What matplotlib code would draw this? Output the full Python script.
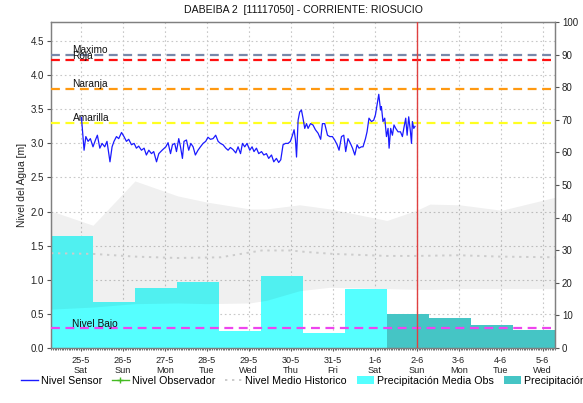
import numpy as np
import matplotlib
matplotlib.use('Agg')
import matplotlib.pyplot as plt
from matplotlib.lines import Line2D
from matplotlib.patches import Patch
from matplotlib.ticker import MultipleLocator, FixedLocator
import matplotlib.transforms as mtransforms

plt.rcParams['font.family'] = ['Liberation Sans', 'DejaVu Sans']

title = "DABEIBA 2  [11117050] - CORRIENTE: RIOSUCIO"
day_labels = ["25-5", "26-5", "27-5", "28-5", "29-5", "30-5", "31-5",
              "1-6", "2-6", "3-6", "4-6", "5-6"]
weekday_labels = ["Sat", "Sun", "Mon", "Tue", "Wed", "Thu", "Fri",
                  "Sat", "Sun", "Mon", "Tue", "Wed"]

# Nivel Sensor: hours since 25-5 00:00 and level [m]
sensor_hours = [0.4, 1.9, 2.9, 4.2, 5.5, 7.0, 8.4, 9.5, 10.9, 12.2, 13.7, 15.0,
                16.7, 17.9, 19.0, 20.4, 21.7, 23.3, 24.7, 26.1, 27.4, 29.0, 30.5,
                31.8, 33.1, 34.7, 36.2, 37.5, 38.9, 40.4, 41.7, 43.3, 44.6, 46.5,
                48.6, 49.9, 51.3, 52.4, 53.7, 54.7, 56.0, 57.0, 58.1, 59.0, 60.4,
                61.7, 62.9, 64.2, 65.5, 67.0, 68.4, 69.9, 71.4, 72.7, 74.1, 75.6,
                77.1, 78.5, 79.8, 81.3, 82.9, 84.2, 85.5, 87.0, 88.6, 89.9, 91.3,
                92.4, 93.7, 95.0, 96.6, 97.9, 99.0, 100.4, 101.7, 103.3, 104.6,
                106.1, 107.4, 109.0, 110.3, 111.8, 113.1, 114.3, 115.6, 117.0,
                118.5, 119.8, 121.0, 121.9, 122.7, 123.3, 124.2, 125.1, 126.1,
                127.0, 128.0, 129.0, 129.9, 131.3, 132.7, 134.1, 135.6, 137.1,
                138.1, 139.4, 141.0, 142.3, 143.8, 145.1, 146.5, 147.6, 149.0,
                150.3, 151.4, 152.7, 154.1, 155.3, 156.6, 157.9, 159.0, 160.4,
                161.3, 162.7, 163.6, 164.7, 166.1, 167.4, 168.4, 169.3, 170.3,
                171.3, 171.8, 172.7, 173.7, 174.7, 175.6, 176.2, 177.1, 178.1,
                179.0, 180.0, 181.3, 182.7, 183.8, 184.6, 185.7, 186.5, 187.4,
                188.4, 189.0, 189.5, 190.3, 191.0]
sensor_level = [3.38, 2.90, 3.10, 3.03, 3.07, 2.95, 3.05, 3.12, 2.93, 3.00, 2.95, 3.03,
                2.73, 2.95, 3.03, 3.10, 3.07, 3.16, 3.10, 3.03, 3.06, 2.98, 3.00,
                2.93, 2.96, 2.90, 2.93, 2.83, 2.90, 2.85, 2.88, 2.73, 2.85, 2.90,
                2.95, 3.01, 2.85, 2.98, 3.00, 2.88, 3.07, 2.95, 2.78, 3.03, 3.05,
                2.90, 3.00, 2.95, 2.83, 2.90, 2.95, 3.00, 3.03, 3.09, 3.06, 3.07,
                3.12, 3.03, 3.00, 2.98, 2.93, 2.90, 2.94, 2.91, 2.86, 2.95, 2.85,
                3.00, 2.95, 3.00, 2.90, 2.95, 2.88, 2.93, 2.85, 2.88, 2.83,
                2.85, 2.78, 2.83, 2.73, 2.78, 2.72, 2.76, 2.98, 3.00,
                3.00, 3.03, 3.12, 3.20, 3.05, 2.80, 3.34, 3.46, 3.49,
                3.37, 3.22, 3.29, 3.22, 3.29, 3.27, 3.20, 3.15, 3.06,
                3.29, 3.29, 3.12, 3.10, 3.10, 3.05, 2.98, 2.90, 3.10,
                3.12, 2.88, 3.07, 3.00, 2.93, 2.83, 2.98, 2.93, 2.95,
                2.95, 3.07, 3.17, 3.37, 3.32, 3.34, 3.42, 3.56, 3.72,
                3.49, 3.54, 3.32, 3.37, 3.10, 3.22, 2.93, 3.22, 3.12,
                3.27, 3.22, 3.17, 3.17, 3.10, 3.22, 3.37, 3.12, 3.39,
                3.17, 3.00, 3.32, 3.22, 3.25]

# Historical band (days since 25-5 00:00)
band_days = [-0.708, 0.29, 1.29, 2.31, 3.0, 4.02, 4.43, 5.21, 5.93, 7.29, 8.0,
             8.31, 9.02, 10.02, 11.29]
band_upper = [2.01, 1.80, 2.45, 2.23, 2.14, 2.04, 2.04, 2.10, 2.04, 1.87, 2.02,
              2.11, 2.10, 2.02, 2.21]
band_lower = [0.57, 0.60, 0.65, 0.66, 0.65, 0.66, 0.70, 0.84, 0.89, 0.87, 0.86,
              0.86, 0.87, 0.87, 0.87]

mean_days = [-0.708, 0.29, 1.29, 2.31, 3.33, 4.31, 5.0, 5.33, 6.0, 7.29, 8.0,
             9.0, 10.0, 11.29]
mean_level = [1.39, 1.38, 1.34, 1.32, 1.33, 1.43, 1.43, 1.41, 1.38, 1.35, 1.35,
              1.36, 1.34, 1.33]

precip_obs = [34.4, 14.0, 18.5, 20.3, 5.3, 22.2, 4.7, 18.1]
precip_fc = [10.3, 9.3, 7.1, 5.4]

threshold_names = ["Maximo", "Roja", "Naranja", "Amarilla", "Nivel Bajo"]
threshold_values = [4.30, 4.22, 3.80, 3.30, 0.29]
threshold_colors = ["#7888aa", "#ff1010", "#ff9910", "#ffff20", "#ee44ee"]

now_day = 8.0
y_top = 4.78

fig = plt.figure(figsize=(5.83, 4.03), dpi=100)
ax2 = fig.add_axes([51 / 583, 1 - 348 / 403, 504 / 583, 326 / 403])
ax = ax2.twinx()
ax.set_zorder(ax2.get_zorder() + 1)
ax.patch.set_visible(False)

# precipitation bars (right scale) on ax2
obs_days = np.arange(len(precip_obs))
fc_days = np.arange(len(precip_obs), len(precip_obs) + len(precip_fc))
ax2.bar(obs_days - 17 / 24, precip_obs, width=1.0, align='edge',
        color='#55ffff', edgecolor='none', zorder=2)
ax2.bar(fc_days - 17 / 24, precip_fc, width=1.0, align='edge',
        color='#45c5c5', edgecolor='none', zorder=2)

ax2.set_ylim(0, 100)
ax2.set_xlim(-17 / 24, 11 + 7 / 24)

# grid on ax2 (behind bars), matching the left scale
left_ticks = np.arange(0, 4.51, 0.5)
ax2.yaxis.set_minor_locator(FixedLocator(left_ticks / y_top * 100))
ax2.grid(True, which='minor', axis='y', color='#c8c8c8', linestyle=(0, (1.5, 2.5)), lw=0.8, zorder=0)
ax2.grid(True, which='major', axis='x', color='#c8c8c8', linestyle=(0, (1.5, 2.5)), lw=0.8, zorder=0)
ax2.set_axisbelow(True)

# level axis on ax (left)
ax.yaxis.tick_left()
ax.yaxis.set_label_position('left')
ax2.yaxis.tick_right()
ax2.yaxis.set_label_position('right')
ax.set_ylim(0, y_top)
ax.set_xlim(-17 / 24, 11 + 7 / 24)

ax.fill_between(band_days, band_lower, band_upper, color='black', alpha=0.06,
                lw=0, zorder=1)
ax.plot(mean_days, mean_level, color='#cccccc', lw=1.4, linestyle=(0, (1.2, 2.4)), zorder=2)

for name, val, col in zip(threshold_names, threshold_values, threshold_colors):
    ax.axhline(val, color=col, lw=1.6, linestyle=(0, (4, 2.5)), zorder=3)
    trans = mtransforms.blended_transform_factory(ax.transAxes, ax.transData)
    ax.annotate(name, xy=(21.5 / 504, val), xycoords=trans, xytext=(0, 1.2),
                textcoords='offset points', fontsize=7.3, color='#111111',
                va='baseline', ha='left', zorder=5)

ax.axvline(now_day, color='#e04040', lw=1.0, zorder=4)

sensor_days = np.array(sensor_hours) / 24.0
ax.plot(sensor_days, sensor_level, color='#1a1aff', lw=0.9, zorder=6)

ax.yaxis.set_major_locator(MultipleLocator(0.5))
ax.yaxis.set_major_formatter(matplotlib.ticker.FormatStrFormatter('%.1f'))
ax2.yaxis.set_major_locator(MultipleLocator(10))

ax2.set_xticks(np.arange(len(day_labels)))
ax2.set_xticklabels([f"{d}\n{w}" for d, w in zip(day_labels, weekday_labels)],
                    fontsize=6.6, color='#222222', linespacing=1.25)
ax2.xaxis.set_minor_locator(MultipleLocator(1 / 24))
ax2.tick_params(axis='x', which='minor', length=1.5, color='#555555')
ax2.tick_params(axis='x', which='major', length=2.5, color='#555555', pad=3)
ax2.tick_params(axis='y', which='minor', length=0)
ax2.tick_params(axis='y', which='major', length=3, color='#555555', labelsize=7, labelcolor='#222222', pad=2)
ax.tick_params(axis='y', length=3, color='#555555', labelsize=7, labelcolor='#222222', pad=2)
ax.tick_params(axis='x', which='both', bottom=False, labelbottom=False)

ax.set_ylabel("Nivel del Agua [m]", fontsize=7.5, color='#222222', labelpad=3)

for a in (ax, ax2):
    for s in a.spines.values():
        s.set_color('#808080')
        s.set_linewidth(0.9)

fig.text(303 / 583, 1 - 10 / 403, title, ha='center', va='center', fontsize=7.6,
         color='#111111')

handles = [
    Line2D([], [], color='#1a1aff', lw=1.0),
    Line2D([], [], color='#44bb22', lw=1.0, marker='+', markersize=4),
    Line2D([], [], color='#cccccc', lw=1.4, linestyle=(0, (1.2, 2.4))),
    Patch(facecolor='#55ffff', edgecolor='none'),
    Patch(facecolor='#45c5c5', edgecolor='none'),
]
labels = ["Nivel Sensor", "Nivel Observador", "Nivel Medio Historico",
          "Precipitación Media Obs", "Precipitación Media Pronosticada"]
fig.legend(handles, labels, loc='center left', bbox_to_anchor=(0.028, 0.055),
           ncol=5, frameon=False, fontsize=7.7, handlelength=1.6,
           handletextpad=0.3, columnspacing=0.9, borderaxespad=0)

fig.savefig('out.png', dpi=100)
